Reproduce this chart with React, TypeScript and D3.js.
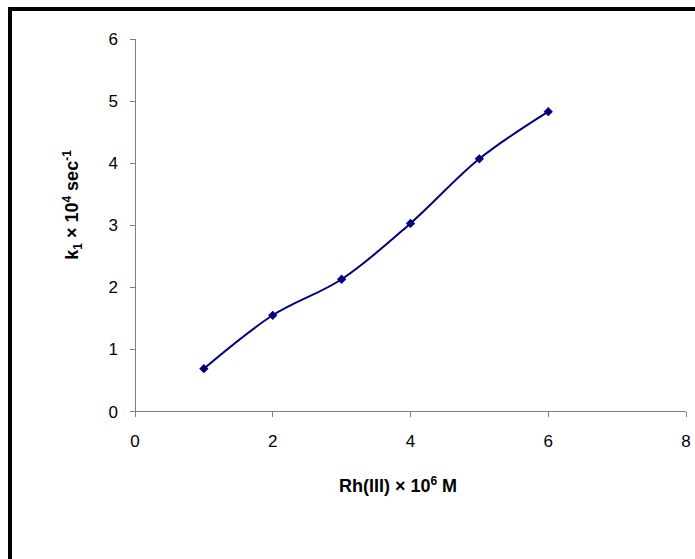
import React from "react";
import * as d3 from "d3";

const xValues = [1, 2, 3, 4, 5, 6];
const yValues = [0.69, 1.55, 2.13, 3.03, 4.07, 4.83];
const xTicks = [0, 2, 4, 6, 8];
const yTicks = [0, 1, 2, 3, 4, 5, 6];

export default function App() {
  const x = d3.scaleLinear().domain([0, 8]).range([135, 686]);
  const y = d3.scaleLinear().domain([0, 6]).range([411.5, 39]);
  const pts: [number, number][] = xValues.map((v, i) => [x(v), y(yValues[i])]);
  const line = d3.line().curve(d3.curveCatmullRom.alpha(0.5))(pts) || "";
  const diamond = d3.symbol().type(d3.symbolDiamond2).size(55)() || "";
  const font = "Arial, 'Liberation Sans', sans-serif";
  return (
    <svg width={695} height={559} style={{ position: "absolute", left: 0, top: 0, background: "#fff" }}>
      <rect x={10} y={9} width={800} height={700} fill="none" stroke="#000" strokeWidth={4} />
      <g stroke="#808080" strokeWidth={1} shapeRendering="crispEdges">
        <line x1={135} x2={135} y1={y(6)} y2={y(0)} />
        <line x1={135} x2={686} y1={y(0)} y2={y(0)} />
        {yTicks.map((t) => (
          <line key={"yt" + t} x1={130} x2={135} y1={y(t)} y2={y(t)} />
        ))}
        {xTicks.map((t) => (
          <line key={"xt" + t} x1={x(t)} x2={x(t)} y1={y(0)} y2={y(0) + 5} />
        ))}
      </g>
      <g fontFamily={font} fontSize={17} fill="#000">
        {yTicks.map((t) => (
          <text key={"yl" + t} x={118} y={y(t) + 6} textAnchor="end">{t}</text>
        ))}
        {xTicks.map((t) => (
          <text key={"xl" + t} x={x(t)} y={447} textAnchor="middle">{t}</text>
        ))}
      </g>
      <path d={line} fill="none" stroke="#000080" strokeWidth={2} />
      {pts.map((p, i) => (
        <path key={"m" + i} d={diamond} transform={`translate(${p[0]},${p[1]})`} fill="#000080" />
      ))}
      <text x={398} y={492} textAnchor="middle" fontFamily={font} fontSize={18} fontWeight="bold">
        Rh(III) × 10<tspan fontSize={12} dy={-7}>6</tspan><tspan dy={7}> M</tspan>
      </text>
      <text transform="translate(78,205) rotate(-90)" textAnchor="middle" fontFamily={font} fontSize={18} fontWeight="bold">
        k<tspan fontSize={12} dy={4}>1</tspan><tspan dy={-4}> × 10</tspan><tspan fontSize={12} dy={-7}>4</tspan><tspan dy={7}> sec</tspan><tspan fontSize={12} dy={-7}>-1</tspan>
      </text>
    </svg>
  );
}
